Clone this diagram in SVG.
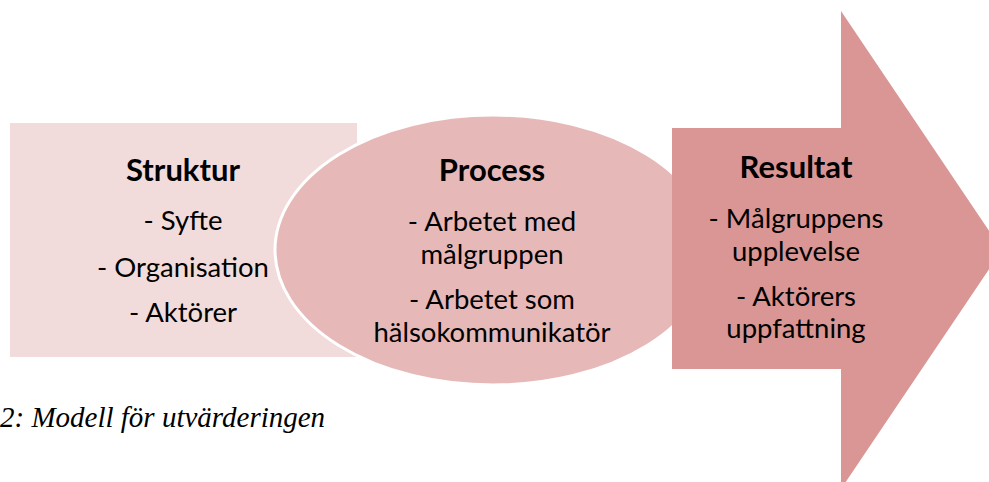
<svg xmlns="http://www.w3.org/2000/svg" width="989" height="482" viewBox="0 0 989 482">
<style>
.t{font-family:Lato,"Open Sans",sans-serif;font-size:27.5px;fill:#000;text-anchor:middle}
.h{font-weight:bold;font-size:31px}
.cap{font-family:"Liberation Serif",serif;font-style:italic;font-size:29px;fill:#000}
</style>
<rect width="989" height="482" fill="#fff"/>
<g id="struktur">
<rect x="10" y="123" width="347" height="234" fill="#f2dcdb"/>
<text class="t h" x="183" y="181">Struktur</text>
<text class="t" x="183" y="230">- Syfte</text>
<text class="t" x="183" y="277">- Organisation</text>
<text class="t" x="183" y="322">- Aktörer</text>
</g>
<g id="process">
<ellipse cx="493" cy="250" rx="218" ry="135" fill="#e6b9b8" stroke="#fff" stroke-width="3"/>
<text class="t h" x="492" y="181">Process</text>
<text class="t" x="492" y="231">- Arbetet med</text>
<text class="t" x="492" y="264">målgruppen</text>
<text class="t" x="492" y="309">- Arbetet som</text>
<text class="t" x="492" y="342">hälsokommunikatör</text>
</g>
<g id="resultat">
<polygon points="672,128 841,128 841,11 1002,250 841,489 841,369 672,369" fill="#d99694"/>
<text class="t h" x="796" y="178">Resultat</text>
<text class="t" x="796" y="228">- Målgruppens</text>
<text class="t" x="796" y="261">upplevelse</text>
<text class="t" x="796" y="306">- Aktörers</text>
<text class="t" x="796" y="338">uppfattning</text>
</g>
<g id="connectors"></g>
<text class="cap" x="0" y="427">2: Modell för utvärderingen</text>
</svg>
